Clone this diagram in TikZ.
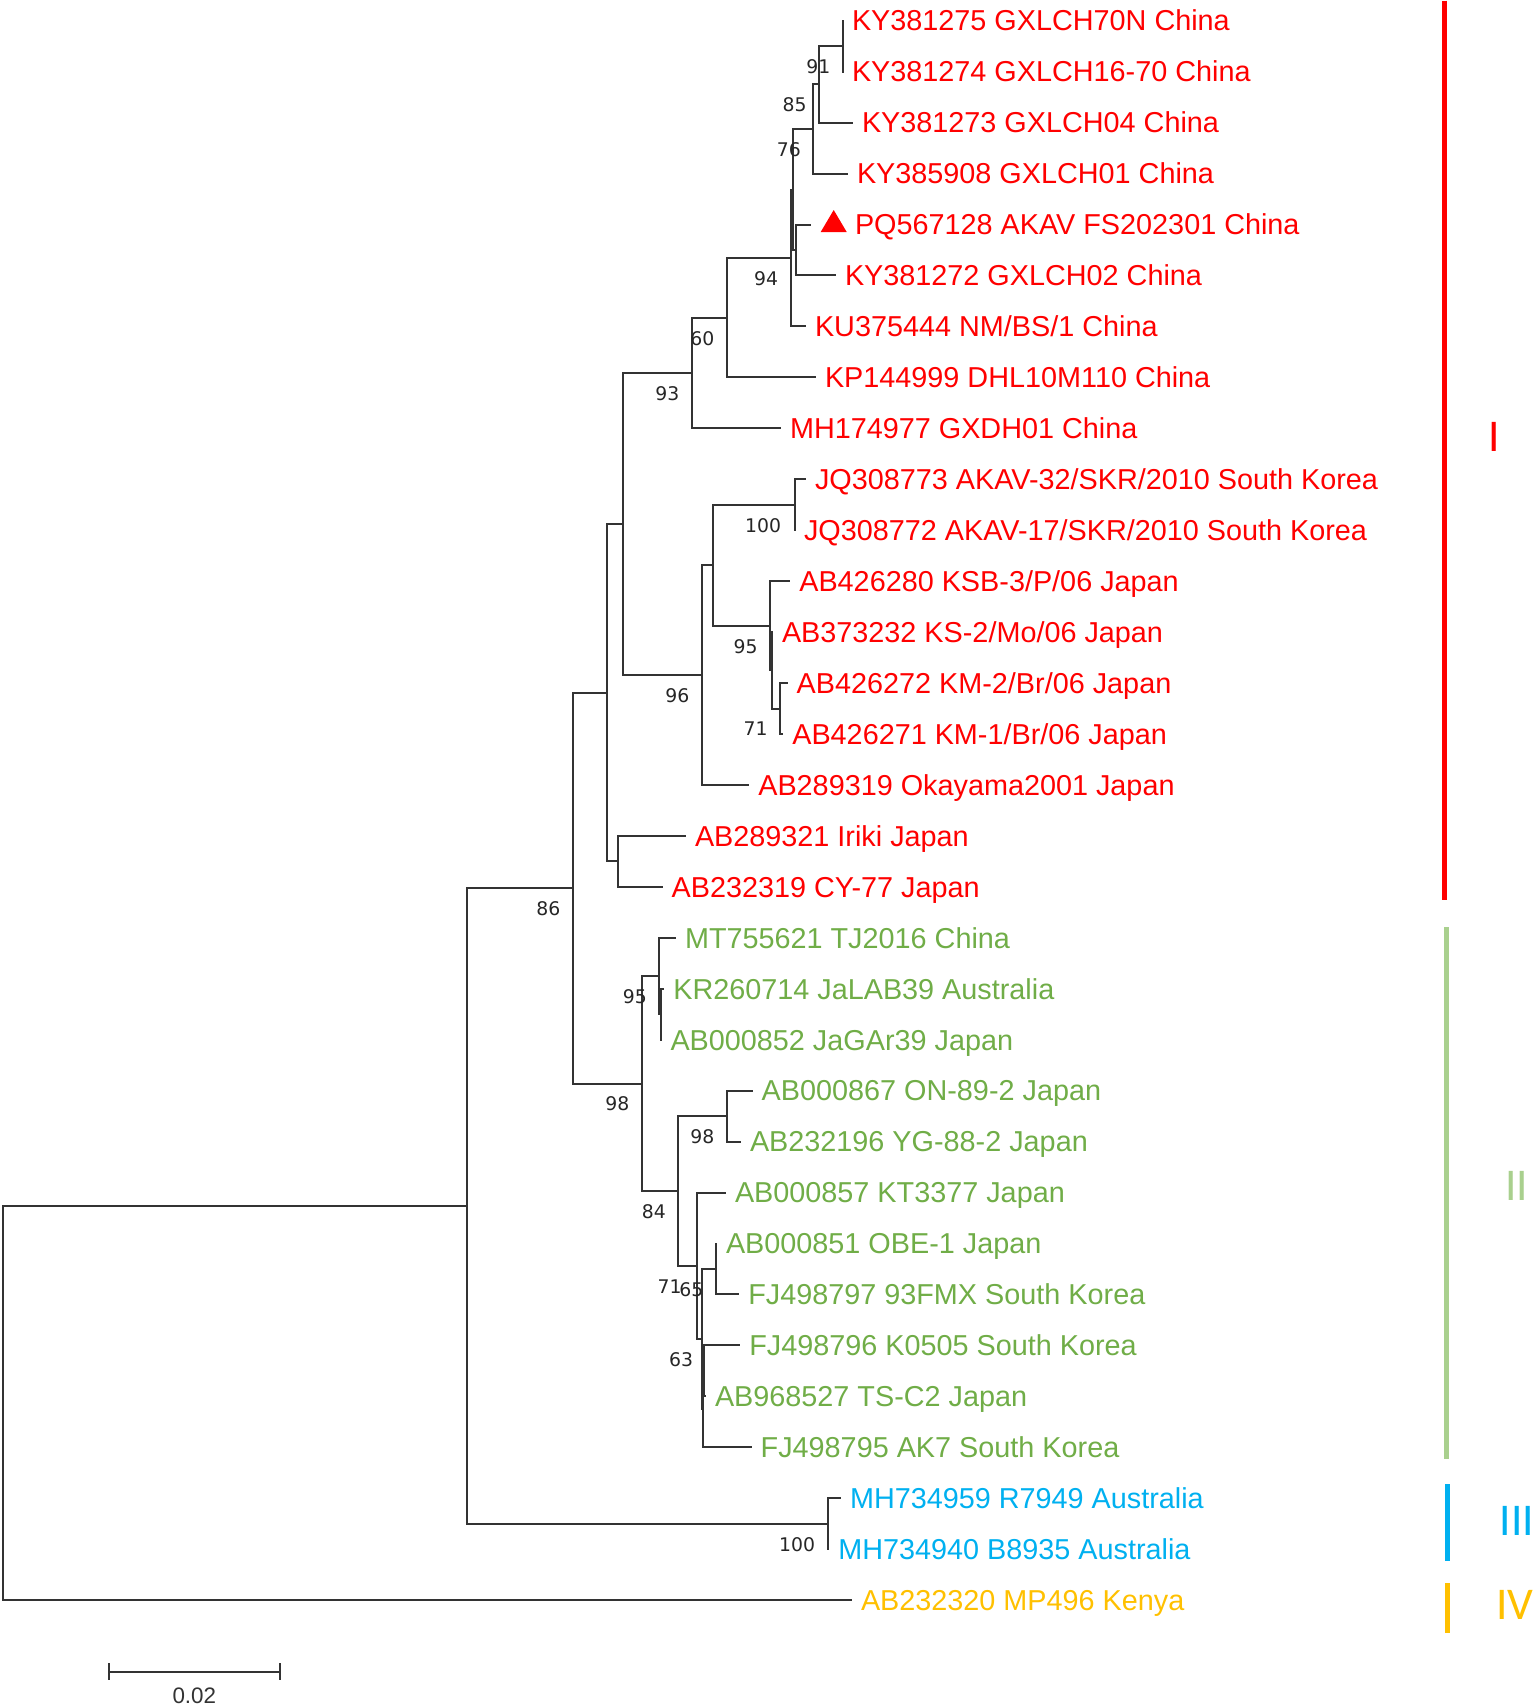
\documentclass[tikz,border=0pt]{standalone}
\usepackage{fontspec}
\setmainfont{Liberation Sans}
\newfontfamily\bootfont{DejaVu Sans}
\newfontfamily\cladefont{Carlito}
\newlength{\px}
\setlength{\px}{0.5pt}
\definecolor{cladered}{RGB}{255,0,0}
\definecolor{cladegreen}{RGB}{112,173,71}
\definecolor{bargreen}{RGB}{169,208,142}
\definecolor{cladeblue}{RGB}{0,176,240}
\definecolor{cladegold}{RGB}{255,192,0}
\definecolor{branchgray}{RGB}{51,51,51}
\tikzset{
  branch/.style={draw=branchgray, line width=1pt},
  leaf/.style={anchor=west, inner sep=0pt, outer xsep=4.5pt, text height=10.3pt, text depth=0pt,
    font=\fontsize{14.4}{17}\selectfont},
  boot/.style={anchor=base east, inner sep=0pt, text=black!85, font=\bootfont\fontsize{9.4}{11}\selectfont},
  cladebar/.style={line width=2.4pt},
  cladelabel/.style={inner sep=0pt, font=\cladefont\fontsize{22.7}{26}\selectfont}
}
\begin{document}
\begin{tikzpicture}[yscale=-1]
\useasboundingbox (0\px,0\px) rectangle (1538\px,1707\px);
% internal nodes
\coordinate (n91) at (842.5\px,46.2\px);
\coordinate (n85) at (819.0\px,84.4\px);
\coordinate (n76) at (813.3\px,129.0\px);
\coordinate (nPQ) at (796.0\px,250.0\px);
\coordinate (nR) at (792.5\px,189.5\px);
\coordinate (n94) at (790.5\px,258.0\px);
\coordinate (n60) at (726.7\px,317.7\px);
\coordinate (n93) at (691.7\px,373.0\px);
\coordinate (nJQ) at (794.5\px,504.7\px);
\coordinate (nKM) at (780.0\px,708.5\px);
\coordinate (nKS) at (772.0\px,670.3\px);
\coordinate (nKSB) at (770.0\px,625.7\px);
\coordinate (nJP) at (713.3\px,565.2\px);
\coordinate (n96) at (701.7\px,675.1\px);
\coordinate (nCN) at (623.3\px,524.0\px);
\coordinate (nIR) at (618.3\px,861.4\px);
\coordinate (nI) at (606.7\px,692.7\px);
\coordinate (nJa) at (661.0\px,1014.2\px);
\coordinate (nTJ) at (659.3\px,976.0\px);
\coordinate (nON) at (726.7\px,1116.1\px);
\coordinate (nOBE) at (715.7\px,1269.0\px);
\coordinate (nTS) at (703.6\px,1370.9\px);
\coordinate (nAK) at (702.8\px,1409.1\px);
\coordinate (nKO) at (702.0\px,1339.0\px);
\coordinate (nKT) at (696.7\px,1265.8\px);
\coordinate (n84) at (678.3\px,1191.0\px);
\coordinate (n98) at (641.7\px,1083.5\px);
\coordinate (n86) at (572.7\px,888.1\px);
\coordinate (nAU) at (828.3\px,1523.7\px);
\coordinate (nIn) at (466.7\px,1205.9\px);
\coordinate (nRoot) at (3.3\px,1403.0\px);
\coordinate (tPQ) at (811.0\px,224.5\px);
% clade I
\node[leaf, text=cladered] (KY381275) at (843.0\px,20.7\px) {KY381275 GXLCH70N China};
\node[leaf, text=cladered] (KY381274) at (843.0\px,71.65\px) {KY381274 GXLCH16-70 China};
\node[leaf, text=cladered] (KY381273) at (853.0\px,122.6\px) {KY381273 GXLCH04 China};
\node[leaf, text=cladered] (KY385908) at (848.0\px,173.55\px) {KY385908 GXLCH01 China};
\node[leaf, text=cladered] (PQ567128) at (846.0\px,224.5\px) {PQ567128 AKAV FS202301 China};
\node[leaf, text=cladered] (KY381272) at (836.0\px,275.45\px) {KY381272 GXLCH02 China};
\node[leaf, text=cladered] (KU375444) at (806.0\px,326.4\px) {KU375444 NM/BS/1 China};
\node[leaf, text=cladered] (KP144999) at (816.0\px,377.35\px) {KP144999 DHL10M110 China};
\node[leaf, text=cladered] (MH174977) at (781.0\px,428.3\px) {MH174977 GXDH01 China};
\node[leaf, text=cladered] (JQ308773) at (806.0\px,479.25\px) {JQ308773 AKAV-32/SKR/2010 South Korea};
\node[leaf, text=cladered] (JQ308772) at (795.0\px,530.2\px) {JQ308772 AKAV-17/SKR/2010 South Korea};
\node[leaf, text=cladered] (AB426280) at (790.3\px,581.15\px) {AB426280 KSB-3/P/06 Japan};
\node[leaf, text=cladered] (AB373232) at (773.0\px,632.1\px) {AB373232 KS-2/Mo/06 Japan};
\node[leaf, text=cladered] (AB426272) at (787.7\px,683.05\px) {AB426272 KM-2/Br/06 Japan};
\node[leaf, text=cladered] (AB426271) at (783.3\px,734.0\px) {AB426271 KM-1/Br/06 Japan};
\node[leaf, text=cladered] (AB289319) at (749.3\px,784.95\px) {AB289319 Okayama2001 Japan};
\node[leaf, text=cladered] (AB289321) at (686.0\px,835.9\px) {AB289321 Iriki Japan};
\node[leaf, text=cladered] (AB232319) at (662.7\px,886.85\px) {AB232319 CY-77 Japan};
% clade II
\node[leaf, text=cladegreen] (MT755621) at (676.0\px,937.8\px) {MT755621 TJ2016 China};
\node[leaf, text=cladegreen] (KR260714) at (664.3\px,988.75\px) {KR260714 JaLAB39 Australia};
\node[leaf, text=cladegreen] (AB000852) at (661.5\px,1039.7\px) {AB000852 JaGAr39 Japan};
\node[leaf, text=cladegreen] (AB000867) at (752.7\px,1090.65\px) {AB000867 ON-89-2 Japan};
\node[leaf, text=cladegreen] (AB232196) at (741.0\px,1141.6\px) {AB232196 YG-88-2 Japan};
\node[leaf, text=cladegreen] (AB000857) at (726.0\px,1192.55\px) {AB000857 KT3377 Japan};
\node[leaf, text=cladegreen] (AB000851) at (717.0\px,1243.5\px) {AB000851 OBE-1 Japan};
\node[leaf, text=cladegreen] (FJ498797) at (739.3\px,1294.45\px) {FJ498797 93FMX South Korea};
\node[leaf, text=cladegreen] (FJ498796) at (740.3\px,1345.4\px) {FJ498796 K0505 South Korea};
\node[leaf, text=cladegreen] (AB968527) at (706.0\px,1396.35\px) {AB968527 TS-C2 Japan};
\node[leaf, text=cladegreen] (FJ498795) at (751.7\px,1447.3\px) {FJ498795 AK7 South Korea};
% clades III and IV
\node[leaf, text=cladeblue] (MH734959) at (841.0\px,1498.25\px) {MH734959 R7949 Australia};
\node[leaf, text=cladeblue] (MH734940) at (829.3\px,1549.2\px) {MH734940 B8935 Australia};
\node[leaf, text=cladegold] (AB232320) at (852.0\px,1600.15\px) {AB232320 MP496 Kenya};
% marker of the new strain
\fill[cladered] (820.7\px,232.0\px) -- (846.7\px,232.0\px) -- (833.7\px,210.0\px) -- cycle;
% branches
\draw[branch] (n91) |- (KY381275);
\draw[branch] (n91) |- (KY381274);
\draw[branch] (n85) |- (n91);
\draw[branch] (n85) |- (KY381273);
\draw[branch] (n76) |- (n85);
\draw[branch] (n76) |- (KY385908);
\draw[branch] (nPQ) |- (tPQ);
\draw[branch] (nPQ) |- (KY381272);
\draw[branch] (nR) |- (n76);
\draw[branch] (nR) |- (nPQ);
\draw[branch] (n94) |- (nR);
\draw[branch] (n94) |- (KU375444);
\draw[branch] (n60) |- (n94);
\draw[branch] (n60) |- (KP144999);
\draw[branch] (n93) |- (n60);
\draw[branch] (n93) |- (MH174977);
\draw[branch] (nJQ) |- (JQ308773);
\draw[branch] (nJQ) |- (JQ308772);
\draw[branch] (nKM) |- (AB426272);
\draw[branch] (nKM) |- (AB426271);
\draw[branch] (nKS) |- (AB373232);
\draw[branch] (nKS) |- (nKM);
\draw[branch] (nKSB) |- (AB426280);
\draw[branch] (nKSB) |- (nKS);
\draw[branch] (nJP) |- (nJQ);
\draw[branch] (nJP) |- (nKSB);
\draw[branch] (n96) |- (nJP);
\draw[branch] (n96) |- (AB289319);
\draw[branch] (nCN) |- (n93);
\draw[branch] (nCN) |- (n96);
\draw[branch] (nIR) |- (AB289321);
\draw[branch] (nIR) |- (AB232319);
\draw[branch] (nI) |- (nCN);
\draw[branch] (nI) |- (nIR);
\draw[branch] (nJa) |- (KR260714);
\draw[branch] (nJa) |- (AB000852);
\draw[branch] (nTJ) |- (MT755621);
\draw[branch] (nTJ) |- (nJa);
\draw[branch] (nON) |- (AB000867);
\draw[branch] (nON) |- (AB232196);
\draw[branch] (nOBE) |- (AB000851);
\draw[branch] (nOBE) |- (FJ498797);
\draw[branch] (nTS) |- (FJ498796);
\draw[branch] (nTS) |- (AB968527);
\draw[branch] (nAK) |- (nTS);
\draw[branch] (nAK) |- (FJ498795);
\draw[branch] (nKO) |- (nOBE);
\draw[branch] (nKO) |- (nAK);
\draw[branch] (nKT) |- (AB000857);
\draw[branch] (nKT) |- (nKO);
\draw[branch] (n84) |- (nON);
\draw[branch] (n84) |- (nKT);
\draw[branch] (n98) |- (nTJ);
\draw[branch] (n98) |- (n84);
\draw[branch] (n86) |- (nI);
\draw[branch] (n86) |- (n98);
\draw[branch] (nAU) |- (MH734959);
\draw[branch] (nAU) |- (MH734940);
\draw[branch] (nIn) |- (n86);
\draw[branch] (nIn) |- (nAU);
\draw[branch] (nRoot) |- (nIn);
\draw[branch] (nRoot) |- (AB232320);
% bootstrap values
\node[boot] (b91) at (830.7\px,73.5\px) {91};
\node[boot] (b85) at (807.0\px,111.7\px) {85};
\node[boot] (b76) at (801.3\px,156.3\px) {76};
\node[boot] (b94) at (778.5\px,285.3\px) {94};
\node[boot] (b60) at (714.7\px,345.0\px) {60};
\node[boot] (b93) at (679.7\px,400.3\px) {93};
\node[boot] (b100a) at (781.5\px,532.0\px) {100};
\node[boot] (b95a) at (758.0\px,653.0\px) {95};
\node[boot] (b71a) at (768.0\px,735.8\px) {71};
\node[boot] (b96) at (689.7\px,702.4\px) {96};
\node[boot] (b86) at (560.7\px,915.4\px) {86};
\node[boot] (b95b) at (647.3\px,1003.3\px) {95};
\node[boot] (b98a) at (629.7\px,1110.8\px) {98};
\node[boot] (b98b) at (714.7\px,1143.4\px) {98};
\node[boot] (b84) at (666.3\px,1218.3\px) {84};
\node[boot] (b71b) at (682.0\px,1293.1\px) {71};
\node[boot] (b65) at (703.7\px,1296.3\px) {65};
\node[boot] (b63) at (693.5\px,1366.3\px) {63};
\node[boot] (b100b) at (815.5\px,1551.0\px) {100};
% clade bars and labels
\draw[cladebar, cladered] (1444.3\px,0.7\px) -- (1444.3\px,900.0\px);
\draw[cladebar, bargreen] (1446.3\px,927.4\px) -- (1446.3\px,1458.6\px);
\draw[cladebar, cladeblue] (1447.7\px,1484.0\px) -- (1447.7\px,1560.7\px);
\draw[cladebar, cladegold] (1447.7\px,1583.3\px) -- (1447.7\px,1633.3\px);
\node[cladelabel, text=cladered] (cI) at (1494.0\px,437.0\px) {I};
\node[cladelabel, text=bargreen] (cII) at (1516.7\px,1185.7\px) {II};
\node[cladelabel, text=cladeblue] (cIII) at (1516.7\px,1520.7\px) {III};
\node[cladelabel, text=cladegold] (cIV) at (1515.0\px,1605.0\px) {IV};
% scale bar
\draw[branch] (109.3\px,1671.7\px) -- (280.0\px,1671.7\px);
\draw[branch] (109.3\px,1663.3\px) -- (109.3\px,1680.0\px);
\draw[branch] (280.0\px,1663.3\px) -- (280.0\px,1680.0\px);
\node[inner sep=0pt, text=branchgray, font=\fontsize{11.2}{13}\selectfont] (scale) at (194.3\px,1696.0\px) {0.02};
\end{tikzpicture}
\end{document}
